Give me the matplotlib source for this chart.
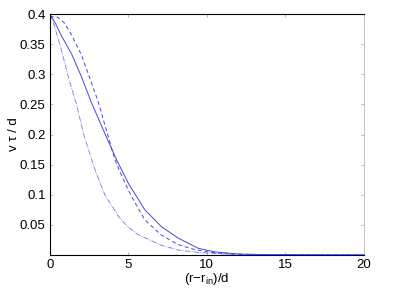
import numpy as np
import matplotlib
matplotlib.use('Agg')
import matplotlib.pyplot as plt

plt.rcParams['font.family'] = ['Liberation Sans', 'DejaVu Sans']

# 曲线数据
x_solid = [0, 0.35, 0.7, 1.4, 2.0, 2.65, 3.4, 4.25, 5.0, 6.05, 7.1, 8.17, 9.45, 10.5, 12, 14, 20]
y_solid = [0.4, 0.385, 0.366, 0.333, 0.297, 0.253, 0.208, 0.158, 0.119, 0.075, 0.047, 0.028, 0.011,
           0.005, 0.0015, 0.0004, 0]

x_dash = [0, 0.5, 0.9, 1.25, 2.0, 2.5, 3.1, 3.6, 4.15, 4.6, 5.2, 6.05, 7.1, 8.17, 9.2, 10.3, 11.5, 13, 20]
y_dash = [0.396, 0.395, 0.386, 0.372, 0.333, 0.297, 0.253, 0.207, 0.158, 0.13, 0.097, 0.058, 0.033,
          0.017, 0.009, 0.004, 0.0015, 0.0004, 0]

x_dd = [0, 0.2, 0.7, 1.25, 1.7, 2.2, 2.65, 2.87, 3.5, 4.35, 4.9, 5.6, 7.1, 8.2, 9.5, 11, 13, 20]
y_dd = [0.4, 0.388, 0.344, 0.289, 0.25, 0.196, 0.16, 0.142, 0.1, 0.065, 0.048, 0.034, 0.016, 0.008,
        0.004, 0.0015, 0.0004, 0]

xticks = [0, 5, 10, 15, 20]
yticks = [0.05, 0.1, 0.15, 0.2, 0.25, 0.3, 0.35, 0.4]

fig = plt.figure(figsize=(4.15, 2.94), dpi=100)
ax = fig.add_axes([0.12, 0.133, 0.757, 0.819])

c = '#4646e0'
ax.plot(x_solid, y_solid, '-', color=c, lw=0.7)
ax.plot(x_dash, y_dash, '--', color=c, lw=0.7, dashes=(4, 3))
ax.plot(x_dd, y_dd, '-.', color=c, lw=0.6, alpha=0.75)

ax.set_xlim(0, 20)
ax.set_ylim(0, 0.4)
ax.set_xticks(xticks)
ax.set_xticklabels([str(t) for t in xticks])
ax.set_yticks(yticks)
ax.set_yticklabels(['0.05', '0.1', '0.15', '0.2', '0.25', '0.3', '0.35', '0.4'])
ax.tick_params(direction='in', length=2.5, width=0.5, labelsize=9.5, pad=3,
               top=True, right=True, color='#999999')

for s in ['left', 'bottom', 'top']:
    ax.spines[s].set_linewidth(0.8)
    ax.spines[s].set_color('black')
ax.spines['right'].set_color('#bbbbbb')
ax.spines['right'].set_linewidth(0.6)

ax.set_xlabel('(r\u2212r$_{\\mathregular{in}}$)/d', fontsize=9.5, labelpad=0)
ax.set_ylabel('v \u03c4 / d', fontsize=9.5, labelpad=0)

fig.savefig('out.png', dpi=100)
